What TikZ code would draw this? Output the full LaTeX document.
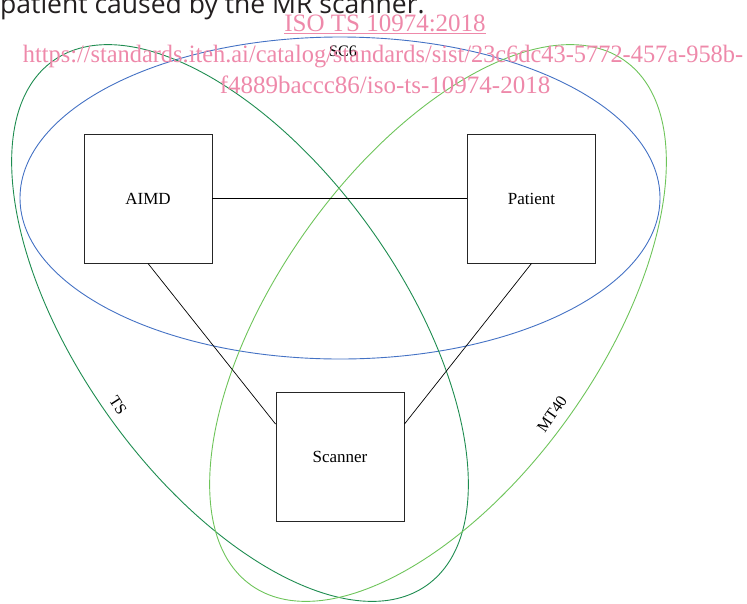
\documentclass[tikz,border=0pt]{standalone}
\usepackage{fontspec}
\setmainfont{Liberation Serif}
\newfontfamily\headfont{Open Sans}
\usetikzlibrary{calc}
\definecolor{scblue}{RGB}{68,114,196}
\definecolor{tsgreen}{RGB}{30,140,80}
\definecolor{mtgreen}{RGB}{110,196,90}
\definecolor{wmpink}{RGB}{238,137,170}
\definecolor{headgray}{RGB}{35,31,32}
\begin{document}
\begin{tikzpicture}[x=1pt,y=-1pt,
  box/.style={draw=black!85, line width=0.9pt, minimum width=128pt, minimum height=129pt, inner sep=0pt, font=\fontsize{17}{20}\selectfont},
  conn/.style={draw=black, line width=0.7pt},
  ring/.style={line width=0.9pt},
  setlabel/.style={inner sep=0pt, font=\fontsize{16}{18}\selectfont},
  wm/.style={text=wmpink, font=\fontsize{25}{28}\selectfont, inner sep=0pt, anchor=base}]
\useasboundingbox (0,0) rectangle (747,603);
\clip (0,0) rectangle (747,603);
% sets
\draw[ring, scblue] (340,198) ellipse [x radius=320pt, y radius=161pt];
\draw[ring, tsgreen, shift={(240,323)}, rotate=-54.5] (0,0) ellipse [x radius=322pt, y radius=161pt];
\draw[ring, mtgreen, shift={(438,323)}, rotate=54.5] (0,0) ellipse [x radius=322pt, y radius=161pt];
% boxes
\node[box] (aimd) at (148,198.5) {AIMD};
\node[box] (patient) at (531.5,198.5) {Patient};
\node[box] (scanner) at (340,456.5) {Scanner};
\coordinate (sl) at ($(scanner.north west)!0.25!(scanner.south west)$);
\coordinate (sr) at ($(scanner.north east)!0.25!(scanner.south east)$);
\draw[conn] (aimd.east) -- (patient.west);
\draw[conn] (aimd.south) -- (sl);
\draw[conn] (patient.south) -- (sr);
% set labels
\node[setlabel] (sc6) at (343,51) {SC6};
\node[setlabel, rotate=-57] (tslabel) at (118,405) {TS};
\node[setlabel, rotate=55] (mtlabel) at (552,414) {MT40};
% top text
\node[anchor=base west, inner sep=0pt, text=headgray, font=\headfont\fontsize{26.5}{30}\selectfont] (head) at (0,13) {patient caused by the MR scanner.};
% watermark
\node[wm] (iso) at (385,31) {\underline{ISO TS 10974:2018}};
\node[wm] (url1) at (383,62) {\scalebox{0.975}[1]{https://standards.iteh.ai/catalog/standards/sist/23c6dc43-5772-457a-958b-}};
\node[wm] (url2) at (385,93) {f4889baccc86/iso-ts-10974-2018};
\end{tikzpicture}
\end{document}
